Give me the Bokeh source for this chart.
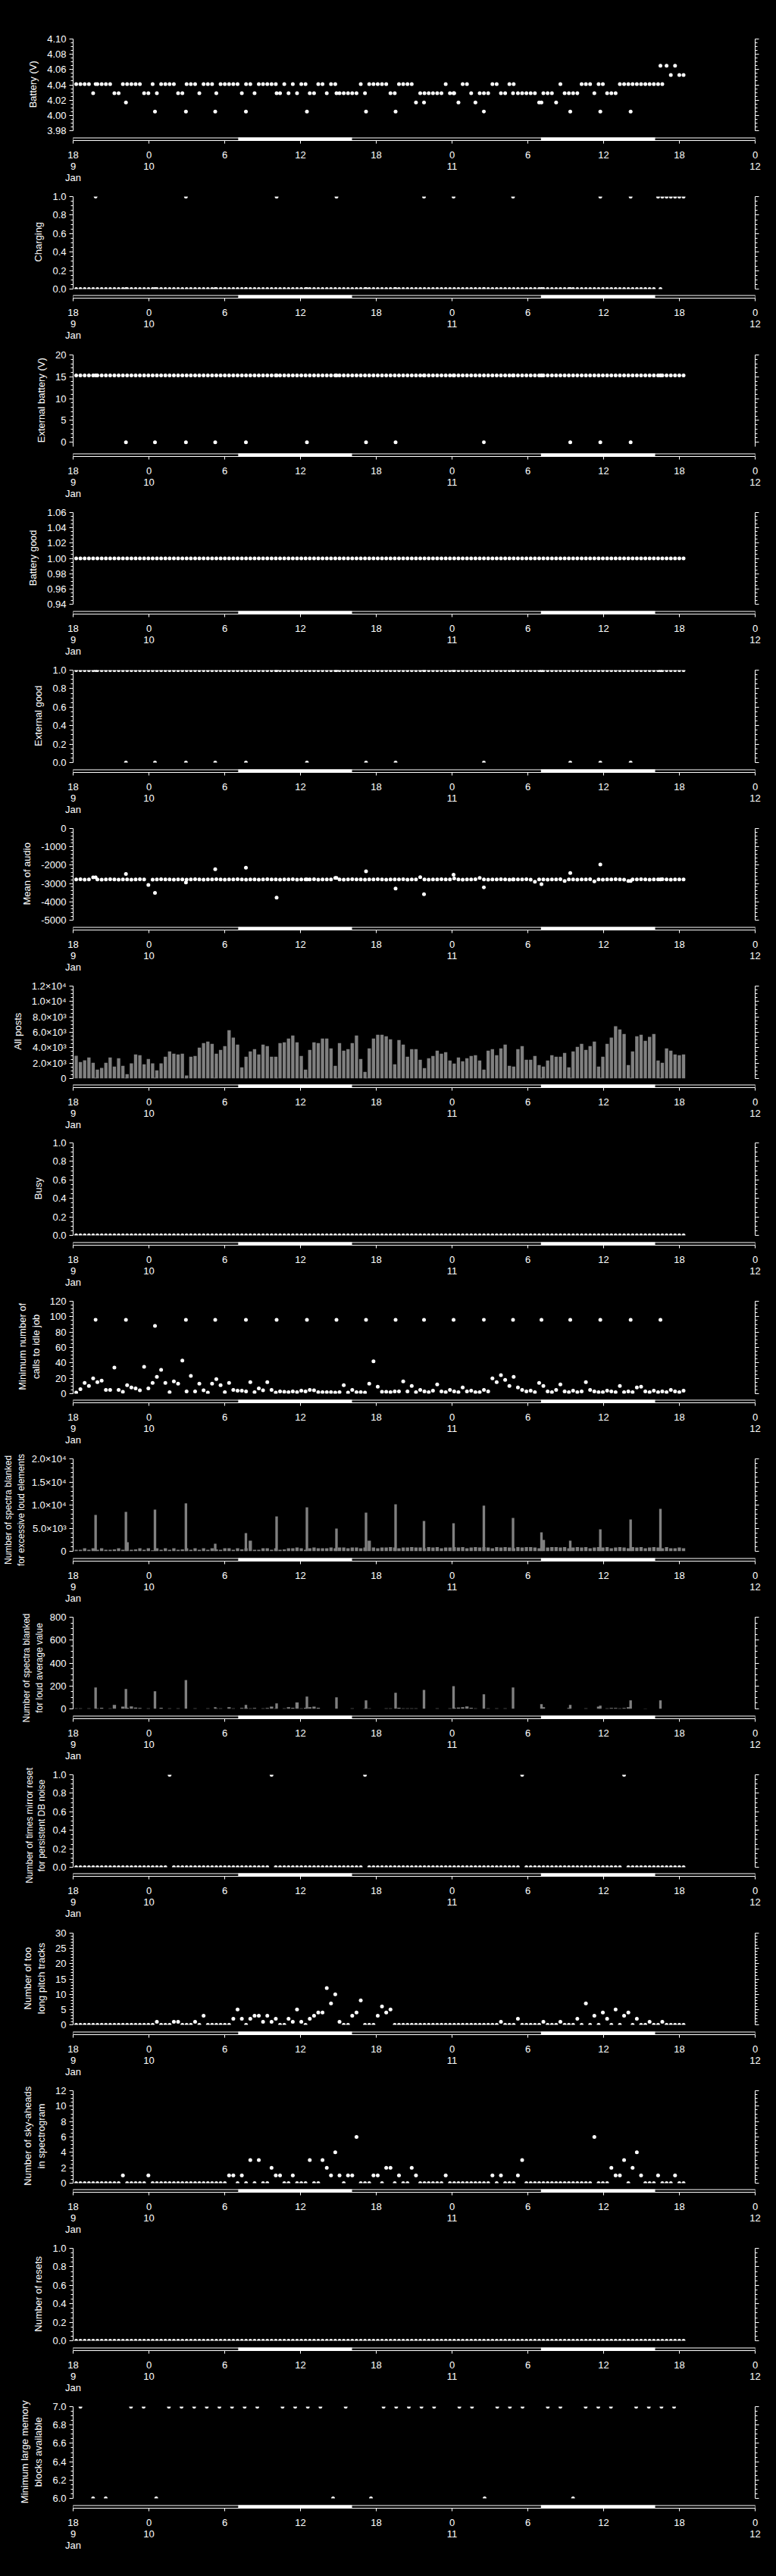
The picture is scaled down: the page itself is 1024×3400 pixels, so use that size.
from bokeh.plotting import figure
from bokeh.layouts import column
from bokeh.models import Range1d, LinearAxis, FixedTicker, PrintfTickFormatter
from bokeh.embed import file_html
from bokeh.resources import INLINE

FONT = "Liberation Sans"
FG = "white"
BG = "black"
GREY = "#808080"

# ---------------------------------------------------------------- time axis
# hours counted from 00:00 on 9 Jan; regular records every ~20 min
slot_hours = [18.24 + 0.3363 * i for i in range(144)]
# periodic summary records
event_hours = [19.78, 22.18, 24.48, 26.93, 29.25, 31.68, 34.11, 36.51, 38.85, 41.19,
               43.53, 45.78, 48.12, 50.52, 52.83, 55.08, 57.36, 59.74, 62.14, 64.50]
# hourly memory samples
hourly_hours = [18.58 + n for n in range(48)]
daylight_start = [31.07, 55.04]
daylight_end = [40.08, 64.08]
x_ticks = [18, 24, 30, 36, 42, 48, 54, 60, 66, 72]
x_tick_labels = ["18\n9\nJan", "0\n10", "6", "12", "18", "0\n11", "6", "12", "18", "0\n12"]

# ---------------------------------------------------------------- data
battery_main = [
    4.041, 4.041, 4.041, 4.041, 4.029, 4.041, 4.041, 4.041, 4.041, 4.029, 4.029, 4.041,
    4.041, 4.041, 4.041, 4.041, 4.029, 4.029, 4.041, 4.029, 4.041, 4.041, 4.041, 4.041,
    4.029, 4.029, 4.041, 4.041, 4.041, 4.029, 4.041, 4.041, 4.041, 4.029, 4.041, 4.041,
    4.041, 4.041, 4.041, 4.029, 4.041, 4.041, 4.029, 4.041, 4.041, 4.041, 4.041, 4.041,
    4.029, 4.041, 4.029, 4.041, 4.029, 4.041, 4.041, 4.029, 4.029, 4.041, 4.041, 4.029,
    4.041, 4.041, 4.029, 4.029, 4.029, 4.029, 4.029, 4.041, 4.029, 4.041, 4.041, 4.041,
    4.041, 4.041, 4.029, 4.029, 4.041, 4.041, 4.041, 4.041, 4.017, 4.029, 4.029, 4.029,
    4.029, 4.029, 4.029, 4.041, 4.029, 4.029, 4.017, 4.041, 4.041, 4.029, 4.017, 4.029,
    4.029, 4.029, 4.041, 4.041, 4.029, 4.029, 4.041, 4.041, 4.029, 4.029, 4.029, 4.029,
    4.029, 4.017, 4.029, 4.029, 4.029, 4.017, 4.041, 4.029, 4.029, 4.029, 4.029, 4.041,
    4.041, 4.041, 4.029, 4.041, 4.041, 4.029, 4.029, 4.029, 4.041, 4.041, 4.041, 4.041,
    4.041, 4.041, 4.041, 4.041, 4.041, 4.041, 4.041, 4.065, 4.053, 4.065, 4.053, 4.053,
]
battery_events = [4.041, 4.017, 4.005, 4.005, 4.005, 4.005, 4.029, 4.005, 4.029, 4.005,
                  4.005, 4.017, 4.029, 4.005, 4.029, 4.017, 4.005, 4.005, 4.005, 4.065]

charging_main = [0] * 137 + [1] * 7
charging_events = [1, 0, 0, 1, 0, 0, 1, 0, 1, 0, 0, 1, 1, 0, 1, 0, 0, 1, 1, 0]

ext_batt_main = [15.3] * 144
ext_batt_events = [15.3, 0, 0, 0, 0, 0, 15.3, 0, 15.3, 0,
                   0, 15.3, 15.3, 0, 15.3, 15.3, 0, 0, 0, 15.3]

batt_good_main = [1] * 144

ext_good_main = [1] * 144
ext_good_events = [1, 0, 0, 0, 0, 0, 1, 0, 1, 0, 0, 1, 1, 0, 1, 1, 0, 0, 0, 1]

audio_main = [
    -2780, -2770, -2790, -2780, -2670, -2780, -2790, -2780, -2770, -2780, -2790, -2780,
    -2780, -2790, -2780, -2770, -2780, -3080, -2790, -2780, -2770, -2780, -2780, -2790,
    -2780, -2780, -2790, -2780, -2770, -2780, -2790, -2780, -2780, -2770, -2780, -2790,
    -2780, -2780, -2770, -2780, -2790, -2780, -2780, -2790, -2780, -2770, -2780, -2780,
    -2790, -2780, -2780, -2770, -2790, -2780, -2780, -2780, -2770, -2790, -2780, -2780,
    -2780, -2700, -2780, -2790, -2780, -2770, -2780, -2780, -2790, -2780, -2780, -2770,
    -2780, -2790, -2780, -2780, -2780, -2770, -2790, -2780, -2780, -2660, -2780, -2790,
    -2780, -2780, -2770, -2780, -2780, -2730, -2780, -2790, -2780, -2780, -2770, -2700,
    -2780, -2790, -2780, -2780, -2770, -2780, -2790, -2780, -2780, -2780, -2770, -2790,
    -2900, -2780, -2780, -2790, -2780, -2780, -2770, -2860, -2780, -2780, -2790, -2780,
    -2780, -2770, -2880, -2780, -2790, -2780, -2780, -2770, -2780, -2790, -2860, -2780,
    -2780, -2770, -2780, -2790, -2780, -2780, -2770, -2780, -2790, -2780, -2780, -2780,
]
audio_events = [-2670, -2480, -3510, -2940, -2220, -2140, -3770, -2780, -2700, -2330,
                -3270, -3580, -2520, -3210, -2780, -3040, -2430, -1960, -2860, -2780]

posts_main = [
    2960, 2140, 2370, 2730, 2040, 1150, 1380, 2040, 2730, 1550, 2630, 1640,
    560, 1970, 3130, 3030, 1840, 2530, 1970, 1050, 1970, 2830, 3520, 3220,
    3130, 3220, 390, 2830, 2930, 4010, 4610, 4800, 4510, 3220, 3720, 4210,
    6280, 5300, 4410, 1450, 2830, 3520, 3820, 3130, 4410, 4210, 2830, 2830,
    4610, 4700, 5200, 5590, 4700, 2930, 1150, 3720, 4700, 4610, 5200, 5200,
    3920, 1640, 4610, 3620, 3820, 4610, 5590, 2530, 860, 3920, 5200, 5690,
    5690, 5490, 5100, 1840, 5000, 4410, 2830, 3820, 3820, 2430, 1350, 2630,
    2930, 3620, 3220, 3420, 2340, 1940, 2730, 2240, 2630, 2930, 3030, 2340,
    1150, 3620, 3820, 3030, 3920, 4410, 1640, 1550, 3820, 4210, 2430, 2430,
    2930, 1740, 1550, 2340, 3030, 2830, 2830, 3320, 1450, 3520, 4110, 4510,
    3720, 4210, 4800, 1550, 2830, 4510, 5300, 6780, 6380, 5790, 1740, 3520,
    5490, 5690, 4900, 5400, 5790, 2340, 2040, 3920, 3620, 3130, 3030, 3130,
]
posts_events = [90] * 20

busy_main = [0] * 144

calls_main = [
    1.5, 6, 14, 10, 20, 15, 17, 5, 5, 34, 5, 2.5,
    11, 8, 7, 4.5, 35, 7, 14, 22, 31, 14, 2, 16,
    13, 43, 3, 23, 3, 13, 4.5, 1.5, 13, 19, 11, 2,
    14, 5, 4, 4, 3, 15, 2, 7, 4.5, 15, 5, 1.5,
    3, 2.5, 2, 3, 2, 4, 3, 5, 4.5, 2, 2, 2,
    2, 1.5, 2, 11, 1.5, 5, 2, 2, 1.5, 13, 42, 9,
    2.5, 2.5, 2, 3, 3, 16, 3, 10, 2, 5, 3, 2,
    4, 12, 3, 2, 5, 3, 2, 8, 3, 4, 2, 2,
    5, 3, 20, 15, 24, 18, 10, 22, 8, 5, 3, 4,
    2, 14, 10, 3, 2, 5, 12, 3, 2, 4, 2, 3,
    15, 5, 3, 2, 2, 4, 3, 2, 10, 2, 3, 2,
    8, 9, 3, 2, 4, 2, 3, 2, 5, 3, 2, 4,
]
calls_events = [96, 96, 88, 96, 96, 96, 96, 96, 96, 96,
                96, 96, 96, 96, 96, 96, 96, 96, 96, 96]

loud_el_main = [
    310, 310, 640, 310, 640, 310, 640, 310, 310, 420, 640, 310,
    1950, 310, 420, 640, 310, 640, 200, 640, 310, 640, 310, 640,
    310, 420, 640, 310, 640, 310, 640, 310, 640, 420, 310, 640,
    640, 310, 640, 420, 640, 2290, 310, 310, 640, 640, 310, 640,
    310, 420, 640, 640, 800, 640, 310, 640, 800, 640, 640, 640,
    800, 640, 800, 800, 640, 800, 800, 640, 800, 2290, 800, 640,
    800, 800, 900, 800, 640, 800, 800, 900, 800, 800, 640, 900,
    800, 900, 640, 800, 800, 900, 800, 900, 640, 800, 900, 800,
    900, 800, 640, 900, 800, 900, 800, 640, 900, 800, 900, 900,
    800, 640, 2450, 800, 900, 900, 800, 900, 640, 800, 900, 800,
    900, 640, 800, 900, 800, 900, 640, 800, 900, 800, 640, 900,
    800, 900, 640, 800, 900, 800, 640, 900, 640, 640, 800, 640,
]
loud_el_events = [7880, 8540, 9030, 10350, 1630, 3930, 7550, 9520, 4920, 8370,
                  10170, 6560, 6070, 9860, 7220, 4090, 2290, 4750, 6890, 9190]

loud_avg_main = [
    5, 5, 0, 5, 0, 5, 10, 0, 5, 35, 0, 20,
    10, 22, 11, 9, 0, 5, 0, 0, 10, 0, 5, 0,
    5, 0, 0, 0, 5, 0, 0, 5, 0, 5, 5, 0,
    15, 5, 0, 8, 10, 5, 8, 0, 5, 8, 20, 5,
    0, 5, 15, 10, 57, 5, 10, 15, 20, 10, 0, 0,
    0, 0, 0, 0, 0, 5, 0, 0, 5, 5, 0, 0,
    0, 5, 5, 0, 10, 5, 5, 5, 5, 0, 0, 0,
    0, 5, 0, 0, 5, 10, 12, 15, 22, 10, 5, 0,
    0, 5, 0, 5, 0, 5, 0, 0, 0, 0, 0, 0,
    0, 0, 15, 0, 0, 0, 0, 0, 8, 0, 0, 0,
    5, 0, 0, 20, 0, 5, 8, 8, 5, 8, 15, 0,
    0, 0, 3, 0, 0, 0, 0, 0, 0, 0, 0, 0,
]
loud_avg_events = [186, 173, 153, 252, 15, 35, 48, 107, 101, 74,
                   140, 166, 199, 127, 186, 42, 35, 28, 74, 74]

mirror_main = [0] * 144
for slot in (22, 46, 68, 105, 129):
    mirror_main[slot] = 1

pitch_main = [
    0, 0, 0, 0, 0, 0, 0, 0, 0, 0, 0, 0,
    0, 0, 0, 0, 0, 0, 0, 1, 0, 0, 0, 1,
    1, 0, 0, 0, 1, 0, 3, 0, 0, 0, 0, 0,
    0, 2, 5, 2, 0, 2, 3, 3, 1, 3, 1, 2,
    0, 0, 2, 1, 5, 1, 0, 2, 3, 4, 4, 12,
    7, 10, 1, 0, 0, 3, 4, 8, 0, 0, 0, 3,
    6, 4, 5, 0, 0, 0, 0, 0, 0, 0, 0, 0,
    0, 0, 0, 0, 0, 0, 0, 0, 0, 0, 0, 0,
    0, 0, 0, 0, 1, 0, 0, 0, 2, 0, 0, 0,
    0, 0, 1, 0, 0, 0, 1, 0, 0, 0, 2, 0,
    7, 0, 3, 0, 4, 2, 0, 5, 0, 3, 4, 0,
    2, 0, 0, 1, 0, 0, 1, 0, 0, 0, 0, 0,
]

sky_main = [
    0, 0, 0, 0, 0, 0, 0, 0, 0, 0, 0, 1,
    0, 0, 0, 0, 0, 1, 0, 0, 0, 0, 0, 0,
    0, 0, 0, 0, 0, 0, 0, 0, 0, 0, 0, 0,
    1, 1, 0, 1, 0, 3, 0, 3, 0, 0, 2, 1,
    1, 0, 0, 1, 0, 0, 0, 3, 0, 0, 3, 2,
    1, 4, 1, 0, 1, 1, 6, 0, 0, 0, 1, 1,
    0, 2, 2, 0, 1, 0, 0, 2, 1, 0, 0, 0,
    0, 0, 0, 1, 0, 0, 0, 0, 0, 0, 0, 0,
    0, 0, 1, 0, 1, 0, 0, 0, 1, 3, 0, 0,
    0, 0, 0, 0, 0, 0, 0, 0, 0, 0, 0, 0,
    0, 0, 6, 0, 0, 0, 2, 1, 1, 3, 0, 2,
    4, 1, 0, 0, 0, 1, 0, 0, 0, 1, 0, 0,
]

resets_main = [0] * 144

memory_hourly = [7, 6, 6, 8, 7, 7, 6, 7, 7, 7, 7, 7, 7, 7, 7, 8,
                 7, 7, 7, 7, 6, 7, 8, 6, 7, 7, 7, 7, 7, 8, 7, 7,
                 6, 7, 7, 7, 8, 7, 7, 6, 7, 7, 7, 8, 7, 7, 7, 7]

# ---------------------------------------------------------------- layout
PERIOD = 207.4
TOTAL_H = 3400
N_PANELS = 16
LEAD = "\u00a0" * 4   # lifts an axis title onto the middle of its data area


def canvas_start(k):
    return 0 if k == 0 else round(35.7 + PERIOD * k)


def style_axis(ax, with_labels=True, title_size="13px", title_standoff=8):
    ax.axis_line_color = FG
    ax.major_tick_line_color = FG
    ax.minor_tick_line_color = FG
    ax.major_tick_out = 5
    ax.major_tick_in = 0
    ax.minor_tick_out = 3
    ax.minor_tick_in = 0
    ax.major_label_text_color = FG if with_labels else None
    ax.major_label_text_font = FONT
    ax.major_label_text_font_size = "13px"
    ax.major_label_standoff = 4
    ax.axis_label_text_color = FG
    ax.axis_label_text_font = FONT
    ax.axis_label_text_font_size = title_size
    ax.axis_label_text_font_style = "normal"
    ax.axis_label_standoff = title_standoff


def ticks_for(lo, hi, step, n_minor):
    n = int(round((hi - lo) / step))
    major = [round(lo + i * step, 6) for i in range(n + 1)]
    minor = []
    for i in range(n):
        for j in range(1, n_minor):
            minor.append(round(lo + i * step + j * step / n_minor, 6))
    return major, minor


def panel(k, spec):
    top = round(50.7 + PERIOD * k)        # top of the data area
    bot = round(172.3 + PERIOD * k)       # bottom of the data area
    strip = round(181.0 + PERIOD * k)     # top of the day/night strip
    fbot = strip + 4                      # bottom of the frame
    start = canvas_start(k)
    end = canvas_start(k + 1) if k < N_PANELS - 1 else TOTAL_H
    lo, hi = spec["lo"], spec["hi"]
    y_start = lo - (hi - lo) * (fbot - bot) / (bot - top)

    p = figure(frame_width=900, frame_height=fbot - top,
               x_range=Range1d(18, 72), y_range=Range1d(y_start, hi),
               output_backend="svg", toolbar_location=None, title=None,
               x_axis_location="below", y_axis_location="left",
               min_border_left=92, min_border_right=32,
               min_border_top=top - start, min_border_bottom=end - fbot,
               background_fill_color=BG, border_fill_color=BG, outline_line_color=None)
    p.grid.visible = False
    p.extra_y_ranges = {"strip": Range1d(0, fbot - top)}

    # value axes, limited to the data area
    t_lo = spec.get("t0", lo)
    major, minor = ticks_for(t_lo, hi, spec["step"], spec["minor"])
    ticker = FixedTicker(ticks=major, minor_ticks=minor)
    ax = p.yaxis[0]
    ax.ticker = ticker
    ax.bounds = (lo, hi)
    if "labels" in spec:
        ax.major_label_overrides = dict(zip(major, spec["labels"]))
    else:
        ax.formatter = PrintfTickFormatter(format=spec["fmt"])
    long_title = max(len(line) for line in spec["label"].split("\n")) > 20
    if long_title:
        ax.axis_label = spec["label"]
        style_axis(ax, title_size="12px", title_standoff=4)
    else:
        ax.axis_label = "\n".join(LEAD + line for line in spec["label"].split("\n"))
        style_axis(ax)
    rax = LinearAxis(ticker=ticker, bounds=(lo, hi))
    style_axis(rax, with_labels=False)
    p.add_layout(rax, "right")

    # marks
    if spec["kind"] == "points":
        p.scatter(slot_hours[:len(spec["main"])], spec["main"], marker="circle",
                  size=5, fill_color=FG, line_color=None)
        if spec.get("events") is not None:
            p.scatter(event_hours, spec["events"], marker="circle",
                      size=5, fill_color=FG, line_color=None)
    elif spec["kind"] == "hourly":
        p.scatter(hourly_hours, spec["main"], marker="circle",
                  size=5, fill_color=FG, line_color=None)
    else:
        p.vbar(x=slot_hours[:len(spec["main"])], top=spec["main"], width=0.26,
               fill_color=GREY, line_color=None)
        if spec.get("events") is not None:
            p.vbar(x=event_hours, top=spec["events"], width=0.2,
                   fill_color=GREY, line_color=None)

    # gap between the data area and the strip stays empty
    gap = fbot - bot
    p.quad(left=[18], right=[72], bottom=[4], top=[gap], fill_color=BG,
           line_color=None, y_range_name="strip")

    # day/night strip: white where the sun is up
    p.quad(left=daylight_start, right=daylight_end, bottom=0, top=4,
           fill_color=FG, line_color=None, y_range_name="strip")
    p.segment(x0=[18], y0=[3.5], x1=[72], y1=[3.5], line_color=FG, line_width=1,
              y_range_name="strip")
    p.segment(x0=[18, 72], y0=[0, 0], x1=[18, 72], y1=[4, 4], line_color=FG,
              line_width=1, y_range_name="strip")

    xa = p.xaxis[0]
    xa.ticker = FixedTicker(ticks=x_ticks, minor_ticks=[])
    xa.major_label_overrides = dict(zip(x_ticks, x_tick_labels))
    xa.axis_line_color = FG
    xa.major_tick_line_color = FG
    xa.major_tick_out = 4
    xa.major_tick_in = 0
    xa.minor_tick_line_color = None
    xa.major_label_text_color = FG
    xa.major_label_text_font = FONT
    xa.major_label_text_font_size = "13px"
    xa.major_label_text_line_height = 1.0
    xa.major_label_standoff = 7
    return p


sci3 = ["0", "2.0×10³", "4.0×10³", "6.0×10³", "8.0×10³", "1.0×10⁴", "1.2×10⁴"]
sci4 = ["0", "5.0×10³", "1.0×10⁴", "1.5×10⁴", "2.0×10⁴"]

panels = [
    dict(label="Battery (V)", lo=3.98, hi=4.10, step=0.02, minor=4, fmt="%.2f",
         kind="points", main=battery_main, events=battery_events),
    dict(label="Charging", lo=0, hi=1, step=0.2, minor=4, fmt="%.1f",
         kind="points", main=charging_main, events=charging_events),
    dict(label="External battery (V)", lo=-1, hi=20, t0=0, step=5, minor=5, fmt="%d",
         kind="points", main=ext_batt_main, events=ext_batt_events),
    dict(label="Battery good", lo=0.94, hi=1.06, step=0.02, minor=4, fmt="%.2f",
         kind="points", main=batt_good_main),
    dict(label="External good", lo=0, hi=1, step=0.2, minor=4, fmt="%.1f",
         kind="points", main=ext_good_main, events=ext_good_events),
    dict(label="Mean of audio", lo=-5000, hi=0, step=1000, minor=5, fmt="%d",
         kind="points", main=audio_main, events=audio_events),
    dict(label="All posts", lo=0, hi=12000, step=2000, minor=4, labels=sci3,
         kind="bars", main=posts_main, events=posts_events),
    dict(label="Busy", lo=0, hi=1, step=0.2, minor=4, fmt="%.1f",
         kind="points", main=busy_main),
    dict(label="Minimum number of\ncalls to idle job", lo=0, hi=120, step=20, minor=4,
         fmt="%d", kind="points", main=calls_main, events=calls_events),
    dict(label="Number of spectra blanked\nfor excessive loud elements", lo=0, hi=20000,
         step=5000, minor=5, labels=sci4, kind="bars", main=loud_el_main,
         events=loud_el_events),
    dict(label="Number of spectra blanked\nfor loud average value", lo=0, hi=800,
         step=200, minor=4, fmt="%d", kind="bars", main=loud_avg_main,
         events=loud_avg_events),
    dict(label="Number of times mirror reset\nfor persistent DB noise", lo=0, hi=1,
         step=0.2, minor=4, fmt="%.1f", kind="points", main=mirror_main),
    dict(label="Number of too\nlong pitch tracks", lo=0, hi=30, step=5, minor=5,
         fmt="%d", kind="points", main=pitch_main),
    dict(label="Number of sky-aheads\nin spectrogram", lo=0, hi=12, step=2, minor=4,
         fmt="%d", kind="points", main=sky_main),
    dict(label="Number of resets", lo=0, hi=1, step=0.2, minor=4, fmt="%.1f",
         kind="points", main=resets_main),
    dict(label="Minimum large memory\nblocks available", lo=6, hi=7, step=0.2, minor=4,
         fmt="%.1f", kind="hourly", main=memory_hourly),
]

rows = [panel(k, spec) for k, spec in enumerate(panels)]

page = column(*rows, spacing=0, background=BG)
html = file_html(page, INLINE, title="Status")
html = html.replace("<body>", '<body style="margin:0;background:black;">', 1)
open("out.html", "w").write(html)
